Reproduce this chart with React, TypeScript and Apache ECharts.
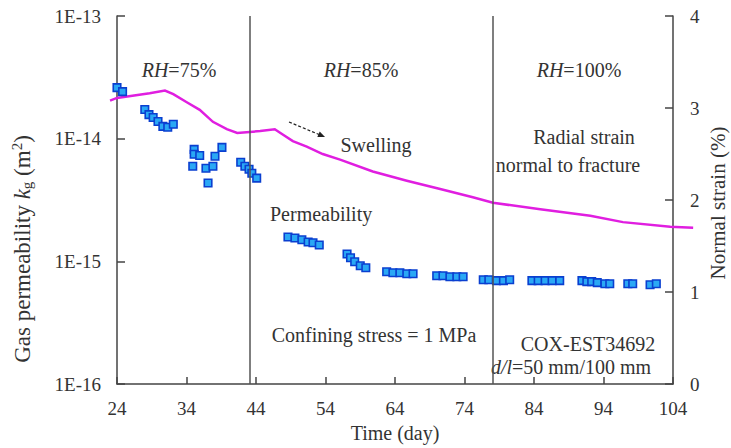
import React, { useEffect, useRef } from "react";
import * as echarts from "echarts";

const FONT = "'Liberation Serif', 'Times New Roman', serif";
const TXT = "#333333";

const xTicks = [24, 34, 44, 54, 64, 74, 84, 94, 104];
const leftTickLabels = ["1E-16", "1E-15", "1E-14", "1E-13"];

const permDays = [
  24.0, 24.8, 28.0, 28.6, 29.2, 29.9, 30.6, 31.3, 32.1,
  34.9, 35.1, 35.1, 35.9, 36.8, 37.1, 37.8, 38.1, 39.1,
  41.8, 42.4, 43.0, 43.4, 44.1,
  48.6, 49.6, 50.6, 51.5, 52.2, 53.1,
  57.1, 57.6, 58.2, 59.0, 59.8,
  62.8, 63.7, 64.7, 65.7, 66.6,
  70.0, 70.9, 71.9, 72.9, 73.8,
  76.7, 77.5, 78.6, 79.6, 80.5,
  83.7, 84.6, 85.6, 86.6, 87.7,
  90.9, 91.6, 92.3, 93.1, 94.2, 94.9,
  97.5, 98.2, 100.7, 101.6,
];
const permK = [
  2.61e-14, 2.42e-14, 1.73e-14, 1.57e-14, 1.49e-14, 1.38e-14, 1.26e-14, 1.24e-14, 1.31e-14,
  5.96e-15, 8.18e-15, 7.46e-15, 7.3e-15, 5.75e-15, 4.35e-15, 5.96e-15, 7.2e-15, 8.5e-15,
  6.43e-15, 5.96e-15, 5.63e-15, 5.23e-15, 4.77e-15,
  1.58e-15, 1.55e-15, 1.5e-15, 1.44e-15, 1.42e-15, 1.36e-15,
  1.15e-15, 1.07e-15, 9.93e-16, 9.21e-16, 8.87e-16,
  8.23e-16, 8.09e-16, 8.09e-16, 7.93e-16, 7.93e-16,
  7.64e-16, 7.64e-16, 7.5e-16, 7.5e-16, 7.5e-16,
  7.09e-16, 7.09e-16, 6.97e-16, 6.97e-16, 7.09e-16,
  6.97e-16, 6.97e-16, 6.97e-16, 6.97e-16, 6.97e-16,
  6.97e-16, 6.84e-16, 6.84e-16, 6.71e-16, 6.58e-16, 6.58e-16,
  6.58e-16, 6.58e-16, 6.46e-16, 6.58e-16,
];

const strainDays = [
  23.0, 24.0, 28.7, 30.9, 32.1, 34.1, 35.9, 37.8, 39.8, 41.3, 43.1, 44.6, 46.7,
  47.9, 49.3, 51.3, 53.6, 56.1, 60.8, 65.7, 70.5, 75.2, 78.1, 84.9, 92.1, 96.8,
  103.6, 106.9,
];
const strainValues = [
  3.08, 3.11, 3.16, 3.19, 3.15, 3.06, 2.98, 2.85, 2.77, 2.73, 2.74, 2.75, 2.77,
  2.71, 2.64, 2.58, 2.5, 2.44, 2.31, 2.21, 2.12, 2.03, 1.97, 1.9, 1.83, 1.76,
  1.71, 1.7,
];

const rhBoundaries = [43.1, 78.0];

export default function App() {
  const ref = useRef<HTMLDivElement>(null);
  useEffect(() => {
    const chart = echarts.init(ref.current!, null, { renderer: "svg" });
    const axisLineStyle = { color: "#444", width: 1.5 };
    const labelStyle = { color: TXT, fontSize: 19, fontFamily: FONT };
    const t = (text: string, x: number, y: number, extra: any = {}) => ({
      type: "text",
      x,
      y,
      style: {
        text,
        fill: TXT,
        fontSize: 20,
        fontFamily: FONT,
        align: "center",
        verticalAlign: "middle",
        ...extra,
      },
    });
    const italicRich = { i: { fontStyle: "italic", fontSize: 20, fontFamily: FONT, fill: TXT } };
    const strainData = strainDays.map((d, i) => [d, strainValues[i]]);
    chart.setOption({
      animation: false,
      backgroundColor: "#ffffff",
      grid: { left: 117, right: 58, top: 16, bottom: 62, containLabel: false },
      xAxis: {
        type: "value",
        min: 24,
        max: 104,
        axisLine: { show: true, lineStyle: axisLineStyle },
        axisTick: { show: true, inside: true, length: 7, lineStyle: axisLineStyle, customValues: xTicks },
        axisLabel: { ...labelStyle, margin: 15, customValues: xTicks },
        splitLine: { show: false },
        name: "Time (day)",
        nameLocation: "middle",
        nameGap: 32,
        nameTextStyle: { color: TXT, fontSize: 20, fontFamily: FONT },
      },
      yAxis: [
        {
          type: "log",
          logBase: 10,
          min: 1e-16,
          max: 1e-13,
          axisLine: { show: true, lineStyle: axisLineStyle },
          axisTick: { show: true, inside: true, length: 8, lineStyle: axisLineStyle },
          minorTick: { show: false },
          axisLabel: {
            ...labelStyle,
            margin: 16,
            formatter: (v: number) => {
              const idx = Math.round(Math.log10(v)) + 16;
              return leftTickLabels[idx] ?? "";
            },
          },
          splitLine: { show: false },
        },
        {
          type: "value",
          min: 0,
          max: 4,
          interval: 1,
          position: "right",
          axisLine: { show: true, lineStyle: axisLineStyle },
          axisTick: { show: true, inside: true, length: 8, lineStyle: axisLineStyle },
          axisLabel: { ...labelStyle, margin: 17 },
          splitLine: { show: false },
        },
      ],
      series: [
        {
          type: "custom",
          yAxisIndex: 1,
          data: strainData,
          encode: { x: 0, y: 1 },
          clip: false,
          z: 2,
          renderItem: (params: any, api: any) => {
            if (params.dataIndex !== 0) return null;
            const pts = strainData.map((p) => api.coord(p));
            return {
              type: "polyline",
              shape: { points: pts },
              style: { stroke: "#e01ee0", lineWidth: 2.5, fill: "none" },
            };
          },
        },
        {
          type: "line",
          yAxisIndex: 1,
          data: [],
          symbol: "none",
          markLine: {
            silent: true,
            symbol: ["none", "none"],
            label: { show: false },
            lineStyle: { color: "#555", width: 1.5, type: "solid" },
            data: rhBoundaries.map((x) => ({ xAxis: x })),
          },
        },
        {
          type: "scatter",
          yAxisIndex: 0,
          data: permDays.map((d, i) => [d, permK[i]]),
          symbol: "rect",
          symbolSize: 7.5,
          itemStyle: { color: "#2aa8f5", borderColor: "#0a3fd0", borderWidth: 1.6, opacity: 1 },
          z: 3,
        },
      ],
      graphic: [
        t("{i|RH}=75%", 179, 70, { rich: italicRich }),
        t("{i|RH}=85%", 361, 70, { rich: italicRich }),
        t("{i|RH}=100%", 579, 70, { rich: italicRich }),
        t("Swelling", 376, 145),
        t("Radial strain", 584, 137),
        t("normal to fracture", 568, 165),
        t("Permeability", 270, 214, { align: "left" }),
        t("Confining stress = 1 MPa", 374, 335),
        t("COX-EST34692", 588, 344),
        t("{i|d/l}=50 mm/100 mm", 571, 367, { rich: italicRich }),
        {
          type: "line",
          shape: { x1: 289, y1: 122, x2: 319, y2: 134.5 },
          style: { stroke: "#222", lineWidth: 1.2, lineDash: [3, 2] },
        },
        {
          type: "polygon",
          shape: { points: [[325, 137], [317.3, 137.1], [319.7, 131.5]] },
          style: { fill: "#222" },
        },
        {
          type: "text",
          x: 22,
          y: 249,
          rotation: Math.PI / 2,
          style: {
            text: "Gas permeability {i|k}{sub|g} (m{sup|2})",
            fill: TXT,
            fontSize: 23,
            fontFamily: FONT,
            align: "center",
            verticalAlign: "middle",
            rich: {
              i: { fontStyle: "italic", fontSize: 23, fontFamily: FONT, fill: TXT, lineHeight: 25 },
              sub: { fontSize: 15, fontFamily: FONT, fill: TXT, verticalAlign: "bottom", lineHeight: 25 },
              sup: { fontSize: 15, fontFamily: FONT, fill: TXT, verticalAlign: "top", lineHeight: 25 },
            },
          },
        },
        {
          type: "text",
          x: 718,
          y: 203,
          rotation: Math.PI / 2,
          style: {
            text: "Normal strain (%)",
            fill: TXT,
            fontSize: 21,
            fontFamily: FONT,
            align: "center",
            verticalAlign: "middle",
          },
        },
      ],
    });
    return () => chart.dispose();
  }, []);
  return (
    <div
      ref={ref}
      style={{ position: "fixed", left: 0, top: 0, width: 731, height: 448 }}
    />
  );
}
